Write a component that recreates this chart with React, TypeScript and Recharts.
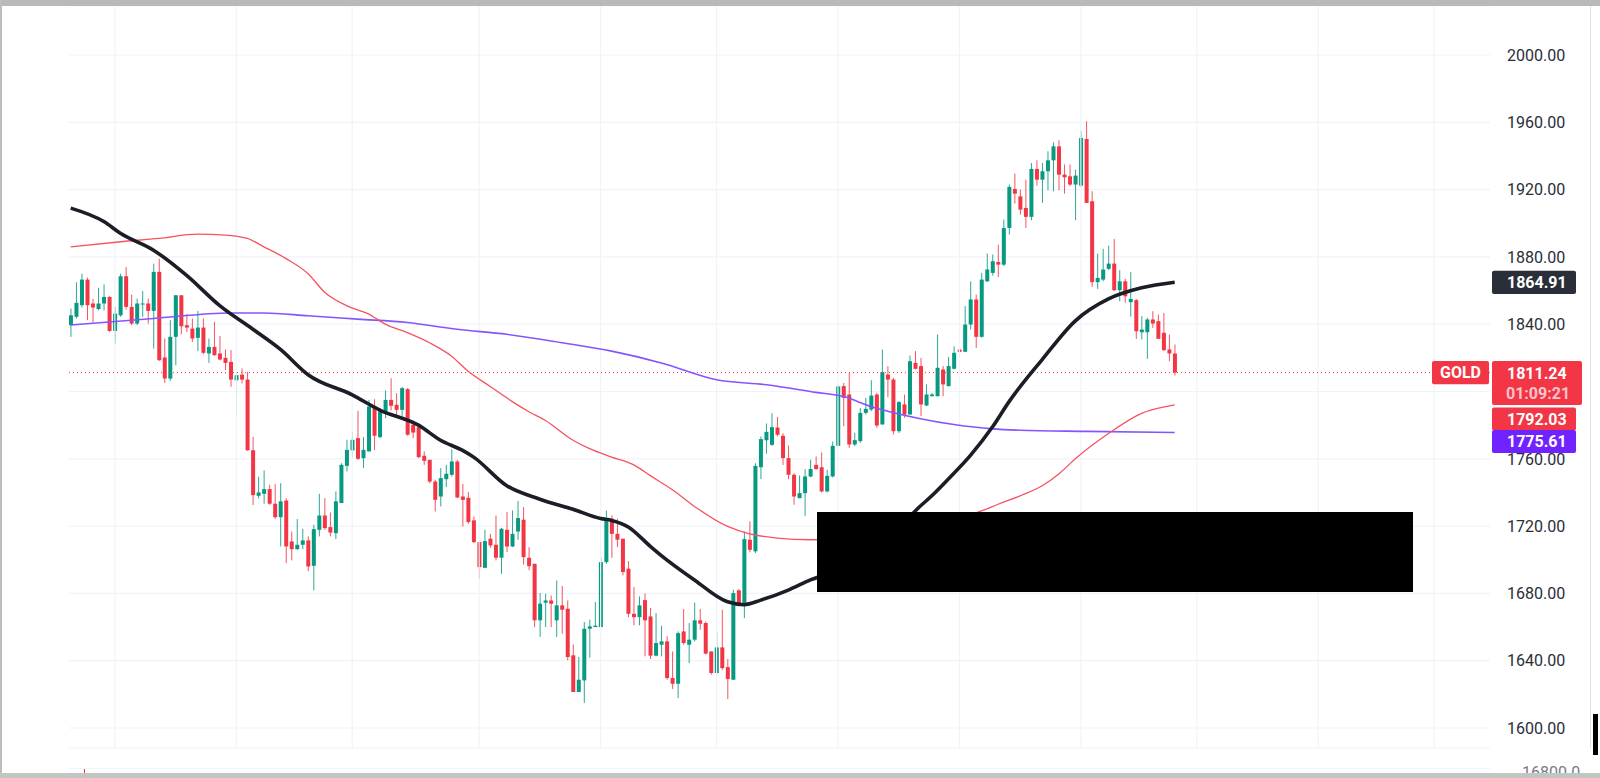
import React from 'react';
import { ComposedChart, Bar, Line, XAxis, YAxis, CartesianGrid, ReferenceLine } from 'recharts';

// ---- Daily GOLD candles ----
const candleOpen = [
  1839.4, 1844.4, 1851.3, 1866.5, 1852.3, 1849.0, 1852.3, 1856.2, 1836.0, 1845.3,
  1868.5, 1850.3, 1840.4, 1851.7, 1852.3, 1847.9, 1871.1, 1820.2, 1807.7, 1832.5,
  1857.2, 1839.4, 1837.4, 1831.9, 1838.0, 1822.6, 1826.5, 1822.6, 1820.0, 1817.6,
  1806.7, 1810.0, 1807.1, 1765.1, 1738.0, 1739.2, 1742.0, 1733.3, 1725.3, 1735.2,
  1710.9, 1706.3, 1708.9, 1711.5, 1696.4, 1717.8, 1726.3, 1719.4, 1715.8, 1733.7,
  1755.8, 1765.0, 1772.3, 1760.4, 1764.4, 1790.7, 1772.9, 1788.1, 1795.0, 1792.1,
  1789.1, 1801.4, 1780.2, 1778.8, 1761.8, 1759.4, 1746.5, 1737.6, 1747.9, 1750.5,
  1758.4, 1737.6, 1736.8, 1723.4, 1710.5, 1695.2, 1712.5, 1708.9, 1701.2, 1717.8,
  1707.9, 1716.8, 1723.8, 1701.2, 1697.6, 1664.0, 1674.5, 1675.8, 1664.0, 1672.9,
  1670.9, 1643.2, 1621.4, 1628.3, 1659.0, 1660.0, 1660.0, 1698.6, 1724.4, 1715.4,
  1712.5, 1694.7, 1667.9, 1665.9, 1676.0, 1666.3, 1643.0, 1649.5, 1651.5, 1629.7,
  1626.3, 1657.4, 1649.5, 1652.5, 1664.0, 1662.4, 1645.5, 1632.7, 1647.9, 1636.2,
  1628.7, 1681.8, 1674.3, 1711.9, 1705.0, 1755.0, 1771.0, 1768.3, 1778.6, 1773.7,
  1760.4, 1750.5, 1736.6, 1739.6, 1749.5, 1756.4, 1755.0, 1740.6, 1749.5, 1767.7,
  1803.2, 1798.2, 1768.5, 1770.5, 1787.3, 1789.3, 1798.2, 1780.4, 1810.1, 1807.1,
  1776.4, 1792.3, 1786.3, 1817.0, 1815.1, 1791.7, 1797.2, 1797.2, 1813.1, 1803.2,
  1813.5, 1824.9, 1823.6, 1839.8, 1854.7, 1832.5, 1865.5, 1870.5, 1877.0, 1875.4,
  1897.2, 1920.4, 1916.0, 1909.1, 1903.8, 1932.3, 1925.9, 1930.9, 1937.4, 1945.7,
  1928.9, 1927.9, 1923.0, 1922.4, 1950.1, 1913.1, 1865.0, 1866.5, 1872.9, 1876.0,
  1860.2, 1865.5, 1853.1, 1854.3, 1835.2, 1835.2, 1842.8, 1841.8, 1834.9, 1825.0,
  1822.6,
];
const candleHigh = [
  1849.3, 1864.9, 1870.0, 1867.7, 1855.0, 1861.6, 1863.6, 1856.6, 1850.3, 1870.0,
  1874.0, 1857.6, 1855.2, 1859.8, 1855.2, 1876.0, 1879.0, 1831.5, 1842.4, 1857.2,
  1857.2, 1846.0, 1843.4, 1847.9, 1843.4, 1831.5, 1841.4, 1833.0, 1825.0, 1824.6,
  1811.7, 1813.7, 1811.7, 1773.0, 1749.3, 1753.1, 1744.6, 1744.9, 1745.5, 1736.6,
  1716.8, 1724.2, 1718.4, 1713.9, 1720.8, 1739.2, 1736.6, 1728.1, 1740.6, 1757.4,
  1771.3, 1776.2, 1788.5, 1772.9, 1795.0, 1795.4, 1790.1, 1800.6, 1807.9, 1799.0,
  1802.6, 1802.0, 1782.8, 1780.2, 1764.4, 1759.4, 1747.5, 1754.5, 1756.4, 1765.7,
  1759.4, 1745.1, 1740.2, 1725.7, 1710.5, 1717.8, 1715.4, 1726.3, 1719.0, 1728.3,
  1729.3, 1734.9, 1731.3, 1707.5, 1697.6, 1680.2, 1679.8, 1678.8, 1687.7, 1684.4,
  1675.8, 1649.7, 1642.2, 1663.0, 1664.4, 1674.9, 1701.6, 1729.3, 1726.3, 1724.4,
  1712.5, 1699.2, 1683.8, 1678.2, 1680.0, 1671.3, 1668.3, 1660.8, 1654.5, 1645.5,
  1657.4, 1670.7, 1662.4, 1674.6, 1670.7, 1663.4, 1645.5, 1656.8, 1670.3, 1641.0,
  1682.2, 1682.6, 1716.8, 1722.8, 1757.4, 1773.3, 1781.0, 1787.1, 1784.8, 1775.2,
  1767.9, 1751.5, 1750.1, 1753.9, 1759.4, 1761.4, 1763.8, 1753.5, 1770.3, 1803.6,
  1805.1, 1811.1, 1775.4, 1790.3, 1796.2, 1806.7, 1799.2, 1824.9, 1815.1, 1808.1,
  1794.3, 1798.2, 1821.4, 1824.0, 1820.0, 1804.2, 1799.2, 1833.9, 1815.1, 1820.6,
  1826.9, 1825.9, 1850.7, 1865.5, 1857.6, 1870.5, 1882.0, 1881.4, 1887.3, 1902.2,
  1923.0, 1929.5, 1920.0, 1925.9, 1935.8, 1937.4, 1935.8, 1942.8, 1948.1, 1949.3,
  1934.9, 1934.9, 1931.9, 1954.7, 1960.6, 1919.0, 1882.0, 1884.8, 1886.7, 1890.7,
  1872.1, 1866.9, 1870.9, 1855.0, 1844.8, 1843.8, 1847.7, 1845.7, 1846.7, 1833.9,
  1827.9,
];
const candleLow = [
  1832.5, 1843.4, 1850.0, 1842.4, 1841.0, 1848.3, 1848.3, 1835.4, 1828.5, 1844.4,
  1848.7, 1839.4, 1839.4, 1844.4, 1840.4, 1825.5, 1818.2, 1805.1, 1806.3, 1815.6,
  1834.0, 1835.4, 1829.5, 1824.0, 1822.2, 1817.0, 1821.2, 1818.6, 1812.7, 1802.8,
  1785.0, 1804.8, 1764.8, 1732.5, 1736.4, 1733.3, 1732.7, 1724.2, 1707.9, 1698.0,
  1699.6, 1705.9, 1706.3, 1693.1, 1681.8, 1713.9, 1717.8, 1713.9, 1712.3, 1733.7,
  1752.5, 1760.4, 1759.4, 1754.5, 1764.4, 1765.3, 1772.3, 1784.2, 1788.7, 1784.2,
  1785.1, 1773.7, 1772.3, 1760.4, 1756.4, 1745.5, 1728.7, 1731.7, 1743.2, 1749.5,
  1736.6, 1719.8, 1721.4, 1709.9, 1688.7, 1695.2, 1707.1, 1699.6, 1691.7, 1704.6,
  1707.5, 1711.9, 1697.2, 1693.7, 1660.0, 1654.1, 1660.0, 1660.0, 1654.1, 1656.0,
  1640.2, 1621.4, 1621.4, 1614.9, 1641.8, 1660.0, 1660.0, 1697.6, 1701.2, 1707.5,
  1690.7, 1665.9, 1661.0, 1661.0, 1642.6, 1641.0, 1642.6, 1642.6, 1628.7, 1623.2,
  1617.8, 1649.5, 1638.6, 1651.5, 1658.4, 1643.6, 1631.7, 1631.7, 1634.6, 1617.2,
  1628.7, 1673.3, 1665.3, 1704.4, 1704.0, 1747.9, 1763.0, 1767.7, 1773.3, 1756.4,
  1747.9, 1732.7, 1736.6, 1726.1, 1749.0, 1753.5, 1740.0, 1740.0, 1749.0, 1767.5,
  1779.4, 1766.5, 1767.5, 1769.5, 1786.3, 1788.3, 1778.4, 1780.4, 1796.6, 1774.4,
  1775.4, 1784.4, 1786.3, 1813.1, 1785.3, 1791.3, 1797.2, 1797.0, 1797.2, 1803.0,
  1813.1, 1823.4, 1823.4, 1836.8, 1825.9, 1832.0, 1865.0, 1868.9, 1868.1, 1874.5,
  1893.3, 1911.7, 1905.1, 1897.2, 1901.8, 1922.4, 1912.1, 1919.6, 1919.0, 1919.6,
  1917.6, 1922.0, 1901.8, 1921.6, 1912.1, 1862.2, 1861.0, 1865.5, 1872.1, 1859.6,
  1853.7, 1852.7, 1844.4, 1831.3, 1830.9, 1819.4, 1837.8, 1831.3, 1824.0, 1818.0,
  1809.5,
];
const candleClose = [
  1845.3, 1852.7, 1866.5, 1851.3, 1849.9, 1852.3, 1856.2, 1836.0, 1846.3, 1868.5,
  1850.3, 1840.4, 1852.3, 1852.3, 1847.9, 1871.1, 1818.6, 1807.7, 1832.5, 1857.2,
  1838.8, 1838.0, 1831.5, 1838.0, 1823.0, 1826.5, 1821.6, 1819.0, 1817.0, 1807.1,
  1809.7, 1807.1, 1765.1, 1738.4, 1740.0, 1742.0, 1733.3, 1725.3, 1734.7, 1707.9,
  1706.3, 1708.9, 1711.5, 1696.0, 1718.2, 1726.3, 1718.8, 1716.2, 1734.7, 1756.4,
  1765.3, 1771.3, 1760.0, 1765.3, 1791.1, 1773.7, 1788.1, 1795.0, 1791.5, 1789.1,
  1802.0, 1774.3, 1775.6, 1761.0, 1758.8, 1746.5, 1735.6, 1748.5, 1751.1, 1758.4,
  1737.0, 1735.6, 1722.4, 1710.5, 1695.6, 1711.1, 1708.5, 1701.2, 1718.4, 1707.9,
  1715.4, 1724.8, 1701.6, 1696.2, 1664.0, 1673.9, 1675.8, 1673.9, 1672.9, 1670.3,
  1642.2, 1621.4, 1628.7, 1659.0, 1660.4, 1660.8, 1698.6, 1724.4, 1715.4, 1711.9,
  1692.7, 1667.9, 1665.9, 1672.9, 1664.0, 1643.0, 1650.5, 1651.5, 1629.7, 1626.3,
  1656.4, 1650.5, 1652.5, 1664.0, 1662.0, 1644.2, 1632.7, 1647.9, 1635.6, 1629.1,
  1680.2, 1673.9, 1712.3, 1705.9, 1755.8, 1771.7, 1776.0, 1778.8, 1774.3, 1760.4,
  1750.5, 1737.6, 1739.6, 1749.5, 1753.9, 1753.9, 1740.6, 1749.9, 1767.7, 1803.0,
  1796.2, 1768.5, 1771.1, 1787.3, 1789.7, 1797.6, 1779.8, 1811.5, 1807.1, 1776.4,
  1793.7, 1786.3, 1818.0, 1813.5, 1792.3, 1798.2, 1798.2, 1814.1, 1804.2, 1815.1,
  1823.0, 1823.6, 1839.8, 1854.7, 1832.5, 1866.5, 1872.5, 1877.4, 1875.4, 1897.2,
  1921.6, 1917.6, 1908.1, 1903.8, 1932.3, 1925.9, 1930.9, 1937.4, 1945.7, 1928.9,
  1927.3, 1923.0, 1928.3, 1950.7, 1912.1, 1865.0, 1867.5, 1872.5, 1876.0, 1860.2,
  1865.5, 1856.6, 1855.0, 1835.8, 1836.8, 1842.8, 1840.4, 1831.3, 1824.6, 1822.6,
  1811.24,
];

// ---- Moving averages, read at candle index (1-based) ----
const maBlackPoints: [number, number][] = [
  [1, 1909], [7, 1901], [10, 1894], [16, 1884], [22, 1869], [28, 1851], [34, 1837], [39, 1825],
  [44, 1810], [52, 1798], [57, 1789], [64, 1780], [68, 1771], [72, 1765], [74, 1761], [80, 1744],
  [86, 1736], [92, 1730], [97, 1724.5], [99, 1723.4], [102, 1719.5], [106, 1708], [108, 1702.5],
  [114, 1688], [120, 1675], [123, 1673.3], [126, 1676], [131, 1682], [135, 1688], [142, 1696],
  [147, 1705], [151, 1717], [154, 1729], [157, 1738], [160, 1748], [164, 1762], [168, 1779],
  [171, 1794], [177, 1819], [183, 1842], [189, 1855], [195, 1861.6], [201, 1864.91],
];
const maRedPoints: [number, number][] = [
  [1, 1886], [10, 1889], [17, 1891], [24, 1893.5], [29, 1893], [33, 1891], [36, 1886], [40, 1879],
  [44, 1870], [47, 1859], [51, 1851], [55, 1846], [58, 1840], [62, 1835], [66, 1829], [70, 1821],
  [73, 1812], [77, 1803], [81, 1794], [84, 1788], [87, 1782.8], [92, 1771], [95, 1766], [99, 1761],
  [103, 1756.4], [106, 1750], [110, 1741.6], [114, 1731.7], [120, 1719.8], [124, 1715.4],
  [129, 1712.9], [135, 1711.9], [141, 1712], [148, 1715], [154, 1719], [160, 1723], [166, 1729],
  [169, 1733], [173, 1738], [177, 1744], [180, 1751], [183, 1760], [189, 1775],
  [195, 1787], [201, 1792.03],
];
const maPurplePoints: [number, number][] = [
  [1, 1839.5], [16, 1843.4], [30, 1846.7], [36, 1846.7], [44, 1845], [53, 1843], [62, 1841],
  [71, 1837], [80, 1834], [90, 1829], [99, 1824], [108, 1817], [118, 1807], [127, 1804],
  [136, 1799.5], [141, 1797], [146, 1791], [149, 1788.3], [161, 1780.4], [168, 1777.8],
  [173, 1777], [185, 1776.3], [201, 1775.61],
];

const priceTicks = [1600, 1640, 1680, 1720, 1760, 1800, 1840, 1880, 1920, 1960, 2000];
const timeGridIndex = [9, 31, 52, 75, 97, 118, 140, 162, 184, 205, 227, 248];

const symbolName = 'GOLD';
const lastPrice = 1811.24;
const countdown = '01:09:21';
const maBlackLast = 1864.91;
const maRedLast = 1792.03;
const maPurpleLast = 1775.61;
const lowerPaneLabel = '16800.0';

const GREEN = '#089981';
const RED = '#f23645';
const BLACK_MA = '#1b1e27';
const RED_MA = '#f7525f';
const PURPLE_MA = '#8455ff';
const PURPLE_TAG = '#7022ff';
const FONT = 'Roboto, "Noto Sans", sans-serif';

const X_DOMAIN: [number, number] = [0.692, 258.12];
const Y_DOMAIN: [number, number] = [1588.12, 2029.12];
const MARGIN = { top: 6, right: 0, left: 69, bottom: 30 };

const toMap = (pts: [number, number][]) => new Map(pts.map(([i, v]) => [i, v]));
const mBlack = toMap(maBlackPoints);
const mRed = toMap(maRedPoints);
const mPurple = toMap(maPurplePoints);

const data = candleOpen.map((o, k) => {
  const i = k + 1;
  return {
    i,
    o,
    h: candleHigh[k],
    l: candleLow[k],
    c: candleClose[k],
    range: [candleLow[k], candleHigh[k]],
    maBlack: mBlack.has(i) ? mBlack.get(i) : null,
    maRed: mRed.has(i) ? mRed.get(i) : null,
    maPurple: mPurple.has(i) ? mPurple.get(i) : null,
  };
});

const CandleShape = (props: any) => {
  const { x, y, width, height, payload } = props;
  if (!payload || x == null || y == null) return null;
  const { o, h, l, c } = payload;
  const top = Math.min(y, y + height);
  const hgt = Math.abs(height);
  const span = h - l || 1;
  const yOf = (v: number) => top + ((h - v) / span) * hgt;
  const color = c >= o ? GREEN : RED;
  const cx = x + width / 2;
  const bTop = yOf(Math.max(o, c));
  const bBot = yOf(Math.min(o, c));
  return (
    <g>
      <line x1={cx} x2={cx} y1={top} y2={top + hgt} stroke={color} strokeWidth={1} strokeOpacity={0.85} />
      <rect x={x} y={bTop} width={width} height={Math.max(1, bBot - bTop)} fill={color} />
    </g>
  );
};

const PriceTick = (props: any) => {
  const { x, y, payload } = props;
  return (
    <text x={x} y={y} dy="0.36em" textAnchor="start" fill="#2a2e39" fontSize={16} fontFamily={FONT}>
      {Number(payload.value).toFixed(2)}
    </text>
  );
};

const makeTag = (text: string, bg: string, dTop: number, w: number, h: number) => (props: any) => {
  const vb = props.viewBox || {};
  const right = (vb.x || 0) + (vb.width || 0);
  const lineY = vb.y || 0;
  return (
    <g>
      <rect x={right + 2} y={lineY + dTop} width={w} height={h} rx={2} fill={bg} />
      <text x={right + 17} y={lineY + dTop + h / 2} dy="0.36em" fill="#ffffff" fontSize={16} fontWeight={700} fontFamily={FONT}>
        {text}
      </text>
    </g>
  );
};

const lastTag = (props: any) => {
  const vb = props.viewBox || {};
  const right = (vb.x || 0) + (vb.width || 0);
  const lineY = vb.y || 0;
  return (
    <g>
      <rect x={right - 58} y={lineY - 11.6} width={57} height={23.3} rx={2} fill={RED} />
      <text x={right - 29.5} y={lineY} dy="0.36em" textAnchor="middle" fill="#fff" fontSize={16} fontWeight={700} fontFamily={FONT}>
        {symbolName}
      </text>
      <rect x={right + 2} y={lineY - 11.6} width={90} height={44} rx={2} fill={RED} />
      <text x={right + 17} y={lineY + 0.7} dy="0.36em" fill="#fff" fontSize={16} fontWeight={700} fontFamily={FONT}>
        {lastPrice.toFixed(2)}
      </text>
      <text x={right + 16} y={lineY + 20.7} dy="0.36em" fill="rgba(255,255,255,0.72)" fontSize={16} fontWeight={700} fontFamily={FONT}>
        {countdown}
      </text>
    </g>
  );
};

export default function App() {
  return (
    <div style={{ position: 'absolute', left: 0, top: 0, width: 1600, height: 778, background: '#ffffff', overflow: 'hidden', fontFamily: FONT }}>
      <div style={{ position: 'absolute', left: 0, top: 0 }}>
        <ComposedChart width={1600} height={778} data={data} margin={MARGIN} style={{ fontFamily: FONT }}>
          <CartesianGrid horizontal vertical={false} stroke="#f0f3fa" strokeWidth={1.2} />
          <XAxis dataKey="i" type="number" domain={X_DOMAIN} allowDataOverflow hide />
          <YAxis
            orientation="right"
            width={110}
            domain={Y_DOMAIN}
            allowDataOverflow
            ticks={priceTicks}
            interval={0}
            axisLine={false}
            tickLine={false}
            tickSize={0}
            tickMargin={17}
            tick={<PriceTick />}
          />
          {timeGridIndex.map((t) => (
            <ReferenceLine key={'g' + t} x={t} stroke="#f0f3fa" strokeWidth={1.2} />
          ))}
          <ReferenceLine y={lastPrice} stroke={RED} strokeDasharray="1 3" strokeWidth={1} />
          <Bar dataKey="range" barSize={4} shape={CandleShape} isAnimationActive={false} />
          <Line dataKey="maPurple" type="monotone" stroke={PURPLE_MA} strokeWidth={1.6} dot={false} connectNulls isAnimationActive={false} />
          <Line dataKey="maRed" type="monotone" stroke={RED_MA} strokeWidth={1.3} dot={false} connectNulls isAnimationActive={false} />
          <Line dataKey="maBlack" type="monotone" stroke={BLACK_MA} strokeWidth={3.6} dot={false} connectNulls isAnimationActive={false} />
        </ComposedChart>
      </div>
      {/* price tags on top of the axis labels, same scales */}
      <div style={{ position: 'absolute', left: 0, top: 0, pointerEvents: 'none' }}>
        <ComposedChart width={1600} height={778} data={data} margin={MARGIN} style={{ fontFamily: FONT }}>
          <XAxis dataKey="i" type="number" domain={X_DOMAIN} allowDataOverflow hide />
          <YAxis
            orientation="right"
            width={110}
            domain={Y_DOMAIN}
            allowDataOverflow
            ticks={priceTicks}
            axisLine={false}
            tickLine={false}
            tick={false}
          />
          <ReferenceLine y={maBlackLast} stroke="none" label={makeTag(maBlackLast.toFixed(2), '#2a2e39', -11.6, 84, 23.3)} />
          <ReferenceLine y={maRedLast} stroke="none" label={makeTag(maRedLast.toFixed(2), RED, 2.6, 84, 23)} />
          <ReferenceLine y={maPurpleLast} stroke="none" label={makeTag(maPurpleLast.toFixed(2), PURPLE_TAG, -2.6, 84, 23)} />
          <ReferenceLine y={lastPrice} stroke="none" label={lastTag} />
        </ComposedChart>
      </div>
      {/* redaction box */}
      <div style={{ position: 'absolute', left: 817, top: 511.5, width: 596, height: 80, background: '#000' }} />
      {/* frame */}
      <div style={{ position: 'absolute', left: 0, top: 0, width: 1600, height: 6, background: '#b8b9b8' }} />
      <div style={{ position: 'absolute', left: 0, top: 0, width: 2, height: 778, background: '#bdbdbd' }} />
      <div style={{ position: 'absolute', left: 1590, top: 6, width: 1, height: 742, background: '#e0e3eb' }} />
      <div style={{ position: 'absolute', left: 1593, top: 714, width: 5, height: 41, background: '#000' }} />
      <div style={{ position: 'absolute', left: 69, top: 768, width: 1421, height: 1, background: '#f0f3fa' }} />
      <div style={{ position: 'absolute', left: 84, top: 769, width: 1, height: 4, background: RED }} />
      <div style={{ position: 'absolute', left: 1522, top: 765, height: 8, overflow: 'hidden', fontSize: 16, color: '#787b86', lineHeight: '16px' }}>{lowerPaneLabel}</div>
      <div style={{ position: 'absolute', left: 0, top: 773, width: 1600, height: 5, background: '#c4c5c3' }} />
    </div>
  );
}
